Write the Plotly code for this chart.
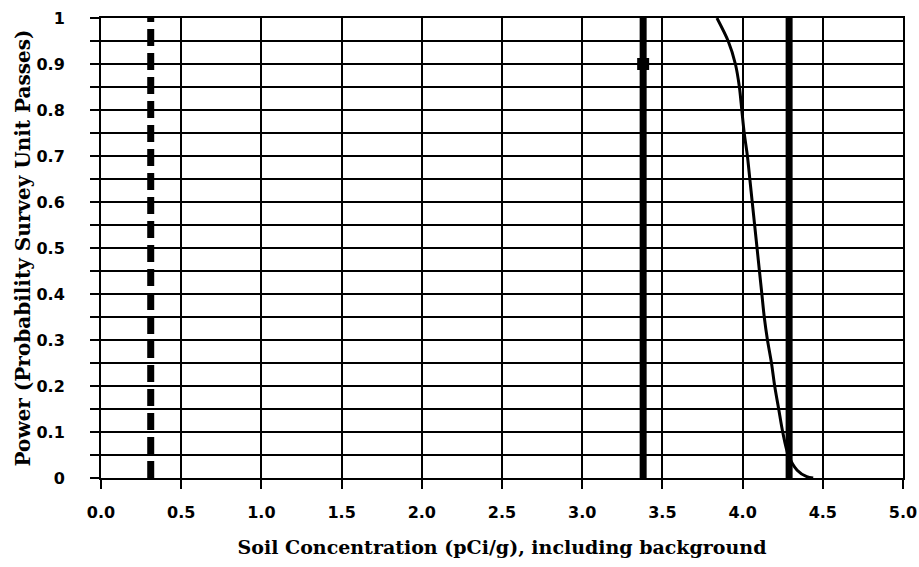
import plotly.graph_objects as go

# Power curve
curve_x = [3.84, 3.91, 3.955, 3.98, 3.995, 4.01, 4.03, 4.045, 4.06, 4.075, 4.09, 4.105, 4.12, 4.135,
           4.155, 4.18, 4.20, 4.225, 4.25, 4.285, 4.34, 4.40, 4.44]
curve_y = [1.00, 0.95, 0.90, 0.85, 0.80, 0.75, 0.70, 0.65, 0.60, 0.55, 0.50, 0.45, 0.40, 0.35,
           0.30, 0.25, 0.20, 0.15, 0.10, 0.05, 0.017, 0.003, 0.0]

dashed_x = 0.31        # dashed reference line
solid_x1 = 3.38        # thick solid line with marker
solid_x2 = 4.29        # second thick solid line
marker_y = 0.9

x_ticks = [0.0, 0.5, 1.0, 1.5, 2.0, 2.5, 3.0, 3.5, 4.0, 4.5, 5.0]
x_ticktext = ["0.0", "0.5", "1.0", "1.5", "2.0", "2.5", "3.0", "3.5", "4.0", "4.5", "5.0"]
y_ticks = [0, 0.1, 0.2, 0.3, 0.4, 0.5, 0.6, 0.7, 0.8, 0.9, 1.0]
y_ticktext = ["0", "0.1", "0.2", "0.3", "0.4", "0.5", "0.6", "0.7", "0.8", "0.9", "1"]

x_title = "Soil Concentration (pCi/g), including background"
y_title = "Power (Probability Survey Unit Passes)"

fig = go.Figure()

fig.add_trace(go.Scatter(x=[dashed_x, dashed_x], y=[0, 1], mode="lines",
                         line=dict(color="black", width=7, dash="17px,7px"),
                         showlegend=False, hoverinfo="skip"))
fig.add_trace(go.Scatter(x=[solid_x1, solid_x1], y=[0, 1], mode="lines",
                         line=dict(color="black", width=7),
                         showlegend=False, hoverinfo="skip"))
fig.add_trace(go.Scatter(x=[solid_x2, solid_x2], y=[0, 1], mode="lines",
                         line=dict(color="black", width=7),
                         showlegend=False, hoverinfo="skip"))
fig.add_trace(go.Scatter(x=[solid_x1], y=[marker_y], mode="markers",
                         marker=dict(symbol="square", size=12, color="black"),
                         showlegend=False, hoverinfo="skip"))
fig.add_trace(go.Scatter(x=curve_x, y=curve_y, mode="lines",
                         line=dict(color="black", width=3, shape="spline", smoothing=0.8),
                         showlegend=False, hoverinfo="skip"))

tick_font = dict(family="DejaVu Sans", size=16, color="black", weight="bold")
title_font = dict(family="DejaVu Serif", size=19, color="black", weight="bold")
ytitle_font = dict(family="DejaVu Serif", size=20, color="black", weight="bold")

fig.update_layout(
    width=919, height=567,
    margin=dict(l=101, r=16, t=18, b=89),
    paper_bgcolor="white", plot_bgcolor="white",
    xaxis=dict(range=[0, 5], tickvals=x_ticks, ticktext=x_ticktext, automargin=False,
               showgrid=True, gridcolor="black", gridwidth=2,
               ticks="outside", ticklen=9, tickwidth=2, tickcolor="black",
               showline=True, linecolor="black", linewidth=2, mirror=True,
               zeroline=False, tickfont=tick_font, ticklabelstandoff=10,
               title=dict(text=x_title, font=title_font, standoff=19)),
    yaxis=dict(range=[0, 1], tickvals=y_ticks, ticktext=y_ticktext, automargin=False,
               showgrid=True, gridcolor="black", gridwidth=2,
               ticks="outside", ticklen=9, tickwidth=2, tickcolor="black",
               minor=dict(dtick=0.05, tick0=0, showgrid=True, gridcolor="black", gridwidth=2,
                          ticks="outside", ticklen=9, tickwidth=2, tickcolor="black"),
               showline=True, linecolor="black", linewidth=2, mirror=True,
               zeroline=False, tickfont=tick_font, ticklabelstandoff=22,
               title=dict(text=y_title, font=ytitle_font, standoff=0)),
)

# remove the default 8px page margin so the figure fills the window exactly
fig.write_html("out.html", config={"displayModeBar": False},
               post_script="document.body.style.margin='0';")
